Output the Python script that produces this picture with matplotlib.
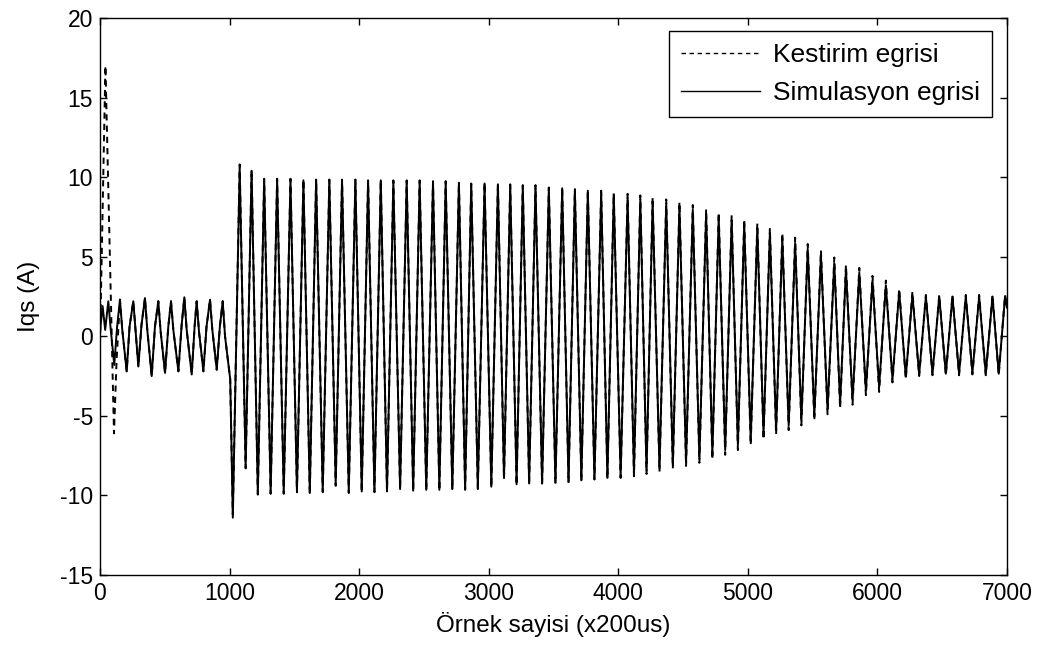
import matplotlib
matplotlib.use("Agg")
import matplotlib.pyplot as plt
import numpy as np

plt.rcParams['font.family'] = ['Liberation Sans', 'DejaVu Sans']
plt.rcParams['axes.unicode_minus'] = False

# ---- data (sample index, Iqs in A) ----
# steady state before the load step (simulation), turning points incl. shoulders
pre_t = [0, 20, 40, 64, 82, 110, 132, 154, 172, 206, 228, 257, 275, 296, 320,
         347, 365, 399, 424, 450, 468, 502, 527, 548, 566, 605, 630, 651, 669,
         708, 730, 746, 764, 798, 822, 849, 867, 901, 925, 947, 965, 1005]
pre_sim = [0.3, 1.9, 0.4, 2.2, 0.5, -1.8, 0.6, 2.3, 0.4, -2.2, 0.6, 2.2, 0.3,
           -1.9, 0.7, 2.4, 0.4, -2.5, 0.6, 2.2, 0.3, -2.3, 0.6, 2.2, 0.4, -2.2,
           0.7, 2.45, 0.4, -2.4, 0.6, 2.2, 0.3, -2.2, 0.6, 2.3, 0.4, -2.1, 0.6,
           2.2, 0.0, -2.7]
# start-up spike of the estimator
est_start_t = [0, 42, 108, 128]
est_start = [-0.5, 17.0, -6.1, -1.5]

# oscillation after the step: maxima and minima
max_t = [1078, 1170, 1267, 1367, 1470, 1570, 1668, 1770, 1868, 1971, 2069, 2167,
         2264, 2367, 2467, 2570, 2668, 2770, 2865, 2968, 3071, 3166, 3263, 3361,
         3464, 3567, 3665, 3765, 3868, 3965, 4072, 4170, 4265, 4370, 4472, 4575,
         4678, 4775, 4875, 4972, 5073, 5170, 5266, 5365, 5462, 5564, 5667, 5757,
         5860, 5962, 6065, 6168, 6270, 6374, 6477, 6579, 6682, 6785, 6888, 6985]
sim_max = [10.6, 10.4, 9.85, 9.85, 9.85, 9.8, 9.85, 9.8, 9.8, 9.8, 9.75, 9.8,
           9.75, 9.75, 9.75, 9.7, 9.7, 9.65, 9.55, 9.6, 9.55, 9.5, 9.45, 9.45,
           9.3, 9.3, 9.2, 9.15, 9.05, 8.9, 8.7, 8.6, 8.45, 8.35, 8.2, 7.95,
           7.7, 7.5, 7.3, 7.05, 6.8, 6.5, 6.15, 5.85, 5.5, 5.1, 4.6, 4.2,
           4.0, 3.5, 3.2, 2.8, 2.6, 2.5, 2.5, 2.5, 2.5, 2.5, 2.5, 2.5]
est_max = [10.8, 10.45, 9.9, 9.9, 9.9, 9.85, 9.9, 9.85, 9.85, 9.85, 9.8, 9.85,
           9.8, 9.8, 9.8, 9.75, 9.75, 9.7, 9.6, 9.65, 9.6, 9.55, 9.5, 9.5,
           9.35, 9.35, 9.25, 9.2, 9.15, 9.0, 8.95, 8.85, 8.75, 8.6, 8.45, 8.25,
           8.0, 7.8, 7.6, 7.35, 7.1, 6.8, 6.5, 6.2, 5.8, 5.4, 4.95, 4.5,
           4.3, 3.8, 3.5, 3.0, 2.8, 2.6, 2.6, 2.6, 2.6, 2.6, 2.6, 2.6]
min_t = [1025, 1124, 1218, 1317, 1418, 1520, 1619, 1719, 1819, 1920, 2020, 2118,
         2215, 2316, 2417, 2518, 2619, 2719, 2818, 2916, 3020, 3118, 3215, 3312,
         3412, 3515, 3616, 3715, 3816, 3916, 4018, 4121, 4218, 4318, 4421, 4523,
         4626, 4726, 4825, 4923, 5022, 5121, 5218, 5315, 5413, 5513, 5615, 5712,
         5808, 5911, 6013, 6116, 6219, 6322, 6425, 6528, 6630, 6733, 6836, 6936]
sim_min = [-11.4, -8.2, -9.9, -9.85, -9.85, -9.75, -9.85, -9.75, -9.3, -9.8, -9.75, -9.75,
           -9.75, -9.6, -9.7, -9.65, -9.65, -9.6, -9.6, -9.55, -9.45, -8.9, -9.3, -9.25,
           -9.25, -9.2, -9.15, -9.05, -8.95, -8.9, -8.8, -8.6, -8.45, -8.3, -8.1, -7.9,
           -7.7, -7.45, -7.15, -6.85, -6.55, -6.2, -5.9, -5.6, -5.3, -5.0, -4.6, -4.25,
           -4.0, -3.4, -3.2, -2.7, -2.55, -2.4, -2.35, -2.35, -2.35, -2.3, -2.35, -2.35]
est_min = [-11.2, -8.3, -9.95, -9.9, -9.9, -9.8, -9.9, -9.8, -9.4, -9.85, -9.8, -9.8,
           -9.8, -9.65, -9.75, -9.7, -9.7, -9.65, -9.65, -9.6, -9.5, -9.0, -9.35, -9.3,
           -9.3, -9.25, -9.2, -9.1, -9.0, -8.95, -8.9, -8.8, -8.65, -8.5, -8.3, -8.15,
           -7.95, -7.75, -7.45, -7.15, -6.85, -6.5, -6.2, -5.9, -5.6, -5.3, -4.9, -4.55,
           -4.3, -3.7, -3.5, -2.9, -2.7, -2.5, -2.45, -2.45, -2.45, -2.4, -2.45, -2.45]
end_t = [7000]
end_v = [1.8]

x_ticks = [0, 1000, 2000, 3000, 4000, 5000, 6000, 7000]
y_ticks = [-15, -10, -5, 0, 5, 10, 15, 20]
labels = ['Kestirim egrisi', 'Simulasyon egrisi']


def merge(t1, v1, t2, v2):
    t = np.concatenate([t1, t2])
    v = np.concatenate([v1, v2])
    o = np.argsort(t, kind='stable')
    return t[o], v[o]


run_t, run_sim = merge(max_t, sim_max, min_t, sim_min)
_, run_est = merge(max_t, est_max, min_t, est_min)

sim_t = np.concatenate([pre_t, run_t, end_t])
sim_v = np.concatenate([pre_sim, run_sim, end_v])

pre_t_arr = np.array(pre_t)
keep = pre_t_arr >= 154
est_t = np.concatenate([est_start_t, pre_t_arr[keep], run_t, end_t])
est_v = np.concatenate([est_start, np.array(pre_sim)[keep], run_est, end_v])

fig = plt.figure(figsize=(10.43, 6.57), dpi=100)
ax = fig.add_axes([100 / 1043, 1 - 575 / 657, 907 / 1043, 557 / 657])

ax.plot(est_t, est_v, color='black', lw=1.4, linestyle=(0, (3.2, 2.6)), label=labels[0])
ax.plot(sim_t, sim_v, color='black', lw=1.4, linestyle='-', label=labels[1])

ax.set_xlim(0, 7000)
ax.set_ylim(-15, 20)
ax.set_xticks(x_ticks)
ax.set_yticks(y_ticks)
ax.tick_params(direction='in', length=5, width=1.0, top=True, right=True,
               labelsize=16.5, pad=5)
for s in ax.spines.values():
    s.set_linewidth(1.0)

ax.set_xlabel('Örnek sayisi (x200us)', fontsize=17.5, labelpad=5)
ax.set_ylabel('Iqs (A)', fontsize=17.5, labelpad=14)

leg = ax.legend(loc='upper right', bbox_to_anchor=(0.9835, 0.9767), fontsize=19,
                frameon=True, fancybox=False, framealpha=1, edgecolor='black',
                handlelength=3.0, handletextpad=0.5, borderpad=0.45, labelspacing=0.55,
                borderaxespad=0)
leg.get_frame().set_linewidth(1.0)
for h in leg.get_lines():
    h.set_linewidth(1.0)

fig.savefig('out.png', dpi=100)
